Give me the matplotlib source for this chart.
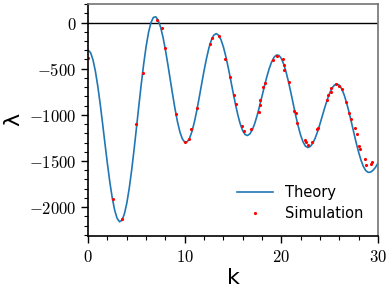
import numpy as np
import matplotlib
matplotlib.use("Agg")
import matplotlib.pyplot as plt
from matplotlib.ticker import MultipleLocator, FuncFormatter

plt.rcParams["mathtext.fontset"] = "cm"

# theory curve, read every 0.25 in k
theory_k = np.arange(0, 30.001, 0.25)
theory_lam = [
    -300, -326, -403, -527,
    -691, -884, -1098, -1319,
    -1534, -1732, -1903, -2035,
    -2122, -2159, -2143, -2075,
    -1959, -1799, -1604, -1382,
    -1144, -902, -667, -450,
    -261, -109, -2, 55,
    62, 25, -50, -159,
    -296, -452, -618, -783,
    -939, -1076, -1185, -1260,
    -1297, -1293, -1254, -1180,
    -1078, -953, -812, -666,
    -522, -391, -277, -192,
    -138, -120, -137, -185,
    -263, -366, -486, -618,
    -754, -884, -1002, -1100,
    -1172, -1214, -1224, -1206,
    -1161, -1093, -1006, -906,
    -798, -690, -588, -498,
    -426, -376, -352, -356,
    -389, -452, -539, -646,
    -765, -890, -1013, -1124,
    -1221, -1294, -1340, -1355,
    -1343, -1309, -1254, -1183,
    -1099, -1010, -921, -838,
    -766, -711, -677, -665,
    -679, -718, -782, -867,
    -967, -1077, -1191, -1302,
    -1404, -1492, -1561, -1605,
    -1624, -1620, -1601, -1569,
    -1525,
]

# simulation points
sim_k = [0.0, 2.55, 3.55, 5.0, 5.65, 7.1, 7.62, 7.99, 9.06,
         10.06, 10.4, 10.68, 11.23, 12.58, 12.78, 13.54, 14.2, 14.64,
         15.1, 15.3, 15.93, 16.13, 16.88, 17.64, 17.77, 17.77, 18.08,
         18.36, 19.13, 19.6, 20.13, 20.3, 20.27, 20.77, 21.33, 21.54,
         21.64, 22.47, 22.54, 22.73, 23.16, 23.74, 23.78, 24.77, 24.88,
         25.15, 25.18, 25.65, 25.95, 26.27, 26.71, 27.04, 27.22, 27.64,
         27.8, 28.09, 28.16, 28.64, 28.75, 29.3, 29.4]
sim_lam = [-384, -1913, -2130, -1103, -547, 25, -58, -275, -995,
           -1291, -1258, -1150, -922, -228, -163, -149, -390, -590,
           -785, -879, -1120, -1180, -1150, -965, -889, -843, -695,
           -660, -405, -364, -398, -456, -517, -648, -958, -980,
           -1089, -1273, -1295, -1327, -1298, -1153, -1140, -835, -781,
           -748, -709, -662, -688, -723, -861, -980, -1041, -1139,
           -1204, -1336, -1370, -1475, -1548, -1537, -1510]

fig = plt.figure(figsize=(3.9, 2.91), dpi=100)
ax = fig.add_axes([0.226, 0.19, 0.743, 0.796])

ax.axhline(0, color="black", lw=1.0)
ax.plot(theory_k, theory_lam, color="#1f77b4", lw=1.2, label="Theory")
ax.plot(sim_k, sim_lam, ".", color="red", ms=2.5, label="Simulation")

ax.set_xlim(0, 30)
ax.set_ylim(-2310, 200)
ax.xaxis.set_major_locator(MultipleLocator(10))
ax.xaxis.set_minor_locator(MultipleLocator(2))
ax.yaxis.set_major_locator(MultipleLocator(500))
ax.yaxis.set_minor_locator(MultipleLocator(100))
fmt = FuncFormatter(lambda v, p: "$%d$" % v)
ax.xaxis.set_major_formatter(fmt)
ax.yaxis.set_major_formatter(fmt)
ax.tick_params(which="major", direction="out", length=5, width=1, labelsize=12)
ax.tick_params(which="minor", direction="out", length=3, width=0.8)

for s in ["left", "bottom"]:
    ax.spines[s].set_color("black")
    ax.spines[s].set_linewidth(1.2)
for s in ["top", "right"]:
    ax.spines[s].set_color("0.45")
    ax.spines[s].set_linewidth(1.2)

ax.set_xlabel("k", fontsize=16, labelpad=2)
ax.set_ylabel("λ", fontsize=16, labelpad=4)

ax.legend(loc="lower right", frameon=False, fontsize=10.5, numpoints=1,
          handlelength=2.5, borderaxespad=0.6, labelspacing=0.4)

plt.savefig("out.png", dpi=100)
